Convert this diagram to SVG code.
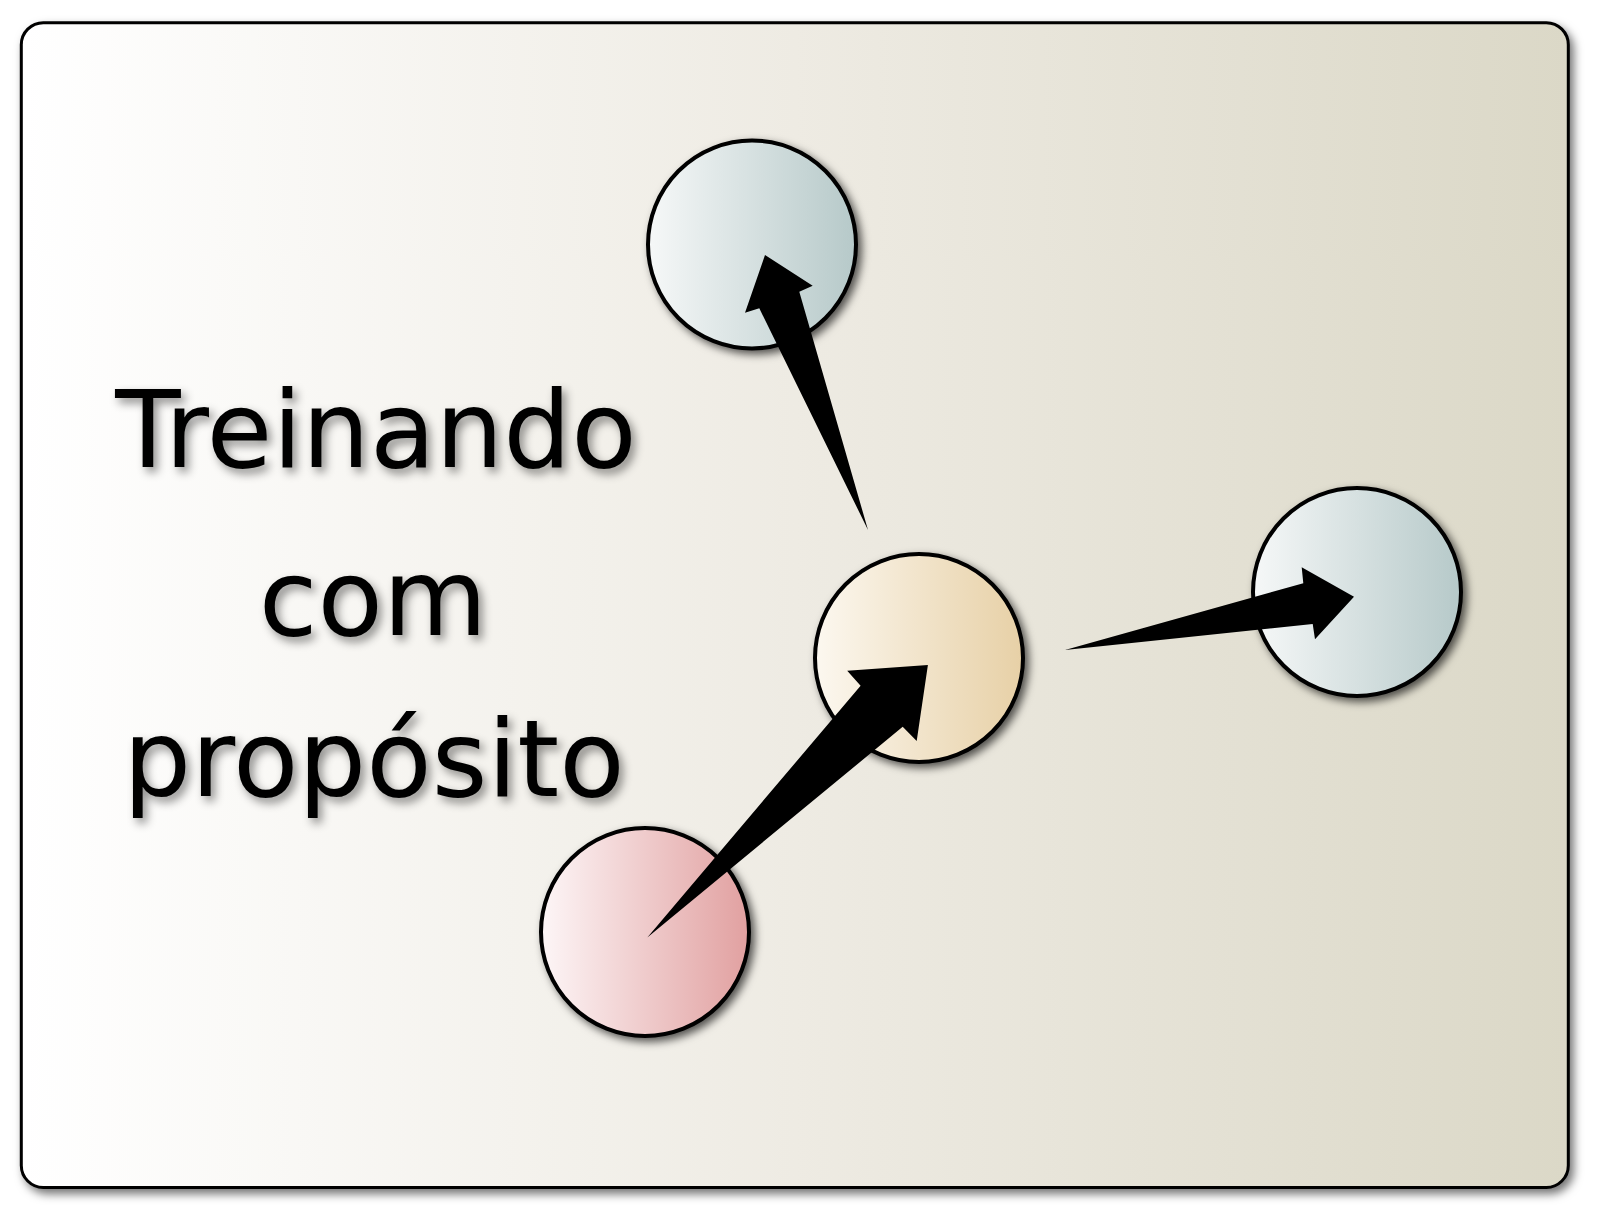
<svg xmlns="http://www.w3.org/2000/svg" width="1600" height="1218" viewBox="0 0 1600 1218">
<defs>
<style>
.node circle{stroke:#000;stroke-width:4;filter:url(#sh)}
.arrow{fill:#000;stroke:none}
.lbl{font-family:"DejaVu Sans","Liberation Sans",sans-serif;font-size:107px;fill:#000;text-anchor:middle;filter:url(#tsh)}
</style>
<linearGradient id="bg" x1="0" y1="0" x2="1" y2="0">
<stop offset="0" stop-color="#ffffff"/>
<stop offset="0.5" stop-color="#eeebe3"/>
<stop offset="1" stop-color="#dbd8c7"/>
</linearGradient>
<linearGradient id="gBlue" x1="0" y1="0" x2="1" y2="0">
<stop offset="0" stop-color="#f6f8f8"/>
<stop offset="1" stop-color="#b6c9c9"/>
</linearGradient>
<linearGradient id="gOrange" x1="0" y1="0" x2="1" y2="0">
<stop offset="0" stop-color="#fcf8f0"/>
<stop offset="1" stop-color="#e7d0a6"/>
</linearGradient>
<linearGradient id="gPink" x1="0" y1="0" x2="1" y2="0">
<stop offset="0" stop-color="#fdf6f7"/>
<stop offset="1" stop-color="#e1a0a0"/>
</linearGradient>
<filter id="sh" x="-20%" y="-20%" width="150%" height="150%">
<feGaussianBlur in="SourceAlpha" stdDeviation="4.5"/>
<feOffset dx="4" dy="4" result="b"/>
<feFlood flood-color="#000" flood-opacity="0.65"/>
<feComposite in2="b" operator="in"/>
<feMerge><feMergeNode/><feMergeNode in="SourceGraphic"/></feMerge>
</filter>
<filter id="fsh" x="-5%" y="-5%" width="110%" height="110%">
<feGaussianBlur in="SourceAlpha" stdDeviation="5"/>
<feOffset dx="4" dy="5" result="b"/>
<feFlood flood-color="#000" flood-opacity="0.55"/>
<feComposite in2="b" operator="in"/>
<feMerge><feMergeNode/><feMergeNode in="SourceGraphic"/></feMerge>
</filter>
<filter id="tsh" x="-10%" y="-30%" width="120%" height="160%">
<feGaussianBlur in="SourceAlpha" stdDeviation="5"/>
<feOffset dx="4" dy="5" result="b"/>
<feFlood flood-color="#000" flood-opacity="0.45"/>
<feComposite in2="b" operator="in"/>
<feMerge><feMergeNode/><feMergeNode in="SourceGraphic"/></feMerge>
</filter>
</defs>
<rect x="0" y="0" width="1600" height="1218" fill="#ffffff"/>
<g id="frame">
<rect x="21.3" y="22.7" width="1547" height="1164.7" rx="22" ry="22" fill="url(#bg)" stroke="#000" stroke-width="3" filter="url(#fsh)"/>
</g>
<g id="label">
<text class="lbl" x="376" y="467">Treinando</text>
<text class="lbl" x="373" y="635">com</text>
<text class="lbl" x="374" y="796">propósito</text>
</g>
<g id="node-top" class="node"><circle cx="752" cy="244.5" r="104" fill="url(#gBlue)"/></g>
<g id="node-right" class="node"><circle cx="1357" cy="592" r="104" fill="url(#gBlue)"/></g>
<g id="node-center" class="node"><circle cx="919" cy="658" r="104" fill="url(#gOrange)"/></g>
<g id="node-source" class="node"><circle cx="645" cy="932" r="104" fill="url(#gPink)"/></g>
<g id="connectors">
<polygon class="arrow" points="868,530 759.3,308.3 745,312.7 765,255 812.7,285.7 799.3,291.7"/>
<polygon class="arrow" points="1065,650 1303.3,583.3 1301.7,567.3 1354,596.7 1315,639.3 1312.7,624"/>
<polygon class="arrow" points="647.3,937.5 860.6,685.7 847.2,670.7 927.9,665 916.7,741 902.7,726.8"/>
</g>
</svg>
